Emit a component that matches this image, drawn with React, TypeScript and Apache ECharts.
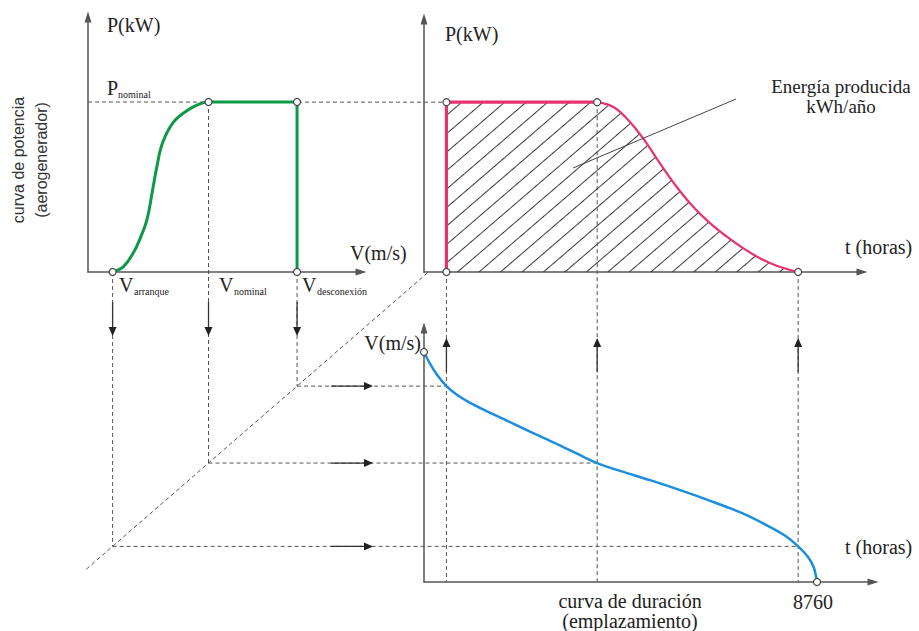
import React, { useEffect, useRef } from "react";
import * as echarts from "echarts";

// characteristic wind speeds (m/s) and nominal power (relative)
const vArranque = 5;
const vNominal = 16.7;
const vDesconexion = 27.5;
const pNominal = 1;
const hoursPerYear = 8760;

// rising part of the power curve (V in m/s, P relative to Pnominal)
const powerRiseV = [5, 6.3, 7.5, 8.3, 9.2, 9.8, 10.4, 11.1, 12.4, 14.1, 15.7, 16.7];
const powerRiseP = [0, 0.03, 0.11, 0.19, 0.31, 0.46, 0.62, 0.76, 0.88, 0.95, 0.99, 1];

// wind speed duration curve (t in hours, V in m/s)
const durationT = [0, 130, 290, 500, 710, 960, 1360, 1800, 2360, 2920, 3480, 3860, 4370, 5040, 5710, 6380, 7040, 7600, 8050, 8340, 8560, 8690, 8760];
const durationV = [32.3, 30.7, 29.1, 27.5, 26.4, 25.4, 24.1, 22.8, 21.1, 19.5, 17.8, 16.7, 15.6, 14.3, 12.9, 11.4, 9.8, 8.1, 6.5, 5.0, 3.5, 2.0, 0];

// hours at which the duration curve reaches the characteristic speeds
const tDesconexion = 500;
const tNominal = 3860;
const tArranque = 8340;

// falling part of the power duration curve (t in hours, P relative)
const energyT = [3860, 4220, 4520, 4890, 5260, 5630, 6000, 6380, 6750, 7120, 7490, 7860, 8340];
const energyP = [1, 0.972, 0.904, 0.786, 0.639, 0.502, 0.384, 0.286, 0.208, 0.139, 0.081, 0.037, 0];

// axis extents
const vAxisMinA = 2;
const vAxisMaxA = 35.3;
const pAxisMaxA = 1.5;
const tAxisMaxB = 9763;
const pAxisMaxB = 1.49;
const tAxisMaxC = 10008;
const vAxisMaxC = 35.66;
const diagonalStartV = 1.8;

const GREEN = "#0d9a47";
const PINK = "#e8336f";
const BLUE = "#1b8fdd";
const SERIF = "'Liberation Serif', 'Times New Roman', serif";
const SANS = "'Liberation Sans', Arial, sans-serif";

const zip = (a: number[], b: number[]) => a.map((x, i) => [x, b[i]]);

const axis = (extra: any) => ({
  type: "value",
  axisTick: { show: false },
  axisLabel: { show: false },
  splitLine: { show: false },
  axisLine: {
    show: true,
    onZero: false,
    lineStyle: { color: "#555", width: 1.5 },
    symbol: ["none", "triangle"],
    symbolSize: [7, 11],
  },
  ...extra,
});

const hatch = {
  symbol: "rect",
  symbolSize: 1,
  color: "#3a3a3a",
  dashArrayX: [1, 0],
  dashArrayY: [1, 13],
  rotation: -0.71,
};

const marker = (xi: number, data: number[][]) => ({
  type: "scatter",
  xAxisIndex: xi,
  yAxisIndex: xi,
  data,
  symbol: "circle",
  symbolSize: 7,
  itemStyle: { color: "#fff", borderColor: "#444", borderWidth: 1.2, opacity: 1 },
  z: 6,
  silent: true,
});

const option: any = {
  animation: false,
  backgroundColor: "#fff",
  grid: [
    { left: 88, top: 17, width: 273, height: 255 },
    { left: 424, top: 19, width: 438, height: 253 },
    { left: 424, top: 328, width: 449, height: 254 },
  ],
  xAxis: [
    axis({ gridIndex: 0, min: vAxisMinA, max: vAxisMaxA }),
    axis({ gridIndex: 1, min: 0, max: tAxisMaxB }),
    axis({ gridIndex: 2, min: 0, max: tAxisMaxC }),
  ],
  yAxis: [
    axis({ gridIndex: 0, min: 0, max: pAxisMaxA }),
    axis({ gridIndex: 1, min: 0, max: pAxisMaxB }),
    axis({ gridIndex: 2, min: 0, max: vAxisMaxC }),
  ],
  series: [
    {
      type: "line",
      xAxisIndex: 0,
      yAxisIndex: 0,
      data: zip(powerRiseV, powerRiseP),
      smooth: 0.4,
      showSymbol: false,
      lineStyle: { color: GREEN, width: 3 },
      z: 3,
    },
    {
      type: "line",
      xAxisIndex: 0,
      yAxisIndex: 0,
      data: [
        [vNominal, pNominal],
        [vDesconexion, pNominal],
        [vDesconexion, 0],
      ],
      showSymbol: false,
      lineStyle: { color: GREEN, width: 3 },
      z: 3,
    },
    marker(0, [
      [vArranque, 0],
      [vNominal, pNominal],
      [vDesconexion, pNominal],
      [vDesconexion, 0],
    ]),
    {
      type: "line",
      xAxisIndex: 1,
      yAxisIndex: 1,
      data: [
        [tDesconexion, 0],
        [tDesconexion, pNominal],
        [tNominal, pNominal],
      ],
      showSymbol: false,
      lineStyle: { color: PINK, width: 3.2 },
      areaStyle: { color: "rgba(255,255,255,0)", opacity: 1 },
      itemStyle: { color: PINK, decal: hatch },
      z: 3,
    },
    {
      type: "line",
      xAxisIndex: 1,
      yAxisIndex: 1,
      data: zip(energyT, energyP),
      smooth: 0.4,
      showSymbol: false,
      lineStyle: { color: PINK, width: 2.2 },
      areaStyle: { color: "rgba(255,255,255,0)", opacity: 1 },
      itemStyle: { color: PINK, decal: hatch },
      z: 3,
    },
    marker(1, [
      [tDesconexion, 0],
      [tDesconexion, pNominal],
      [tNominal, pNominal],
      [tArranque, 0],
    ]),
    {
      type: "line",
      xAxisIndex: 2,
      yAxisIndex: 2,
      data: zip(durationT, durationV),
      smooth: 0.3,
      showSymbol: false,
      lineStyle: { color: BLUE, width: 2.5 },
      z: 3,
    },
    marker(2, [
      [0, durationV[0]],
      [hoursPerYear, 0],
    ]),
  ],
};

function buildGraphic(chart: any) {
  const A = (x: number, y: number) => chart.convertToPixel({ gridIndex: 0 }, [x, y]) as number[];
  const B = (x: number, y: number) => chart.convertToPixel({ gridIndex: 1 }, [x, y]) as number[];
  const C = (x: number, y: number) => chart.convertToPixel({ gridIndex: 2 }, [x, y]) as number[];
  const diag = (v: number) => [A(v, 0)[0], C(0, v)[1]];

  const dash = { stroke: "#555", lineWidth: 1, lineDash: [4, 3] };
  const solid = { stroke: "#333", lineWidth: 1.3 };
  const els: any[] = [];
  const line = (x1: number, y1: number, x2: number, y2: number, style: any, z = 1) =>
    els.push({ type: "line", silent: true, z, shape: { x1, y1, x2, y2 }, style });
  const head = (pts: number[][]) =>
    els.push({ type: "polygon", silent: true, z: 10, shape: { points: pts }, style: { fill: "#222" } });
  const text = (
    t: string,
    x: number,
    y: number,
    size: number,
    align = "left",
    family = SERIF,
    rotation = 0,
    fill = "#222",
    lineHeight?: number
  ) =>
    els.push({
      type: "text",
      silent: true,
      z: 20,
      x,
      y,
      rotation,
      style: {
        text: t,
        fontSize: size,
        fontFamily: family,
        fill,
        align,
        textAlign: align,
        verticalAlign: "middle",
        textVerticalAlign: "middle",
        lineHeight: lineHeight || Math.round(size * 1.2),
      },
    });

  const speeds = [vArranque, vNominal, vDesconexion];
  const times = [tArranque, tNominal, tDesconexion];
  const topLeftP = [0, pNominal, 0];
  const topRightP = [0, pNominal, 0];

  // P nominal dashed reference
  const pn0 = A(vAxisMinA, pNominal);
  const pn1 = B(tDesconexion, pNominal);
  line(pn0[0], pn0[1], pn1[0], pn1[1], dash);

  // diagonal transfer line
  const yTopAxis = A(vAxisMinA, 0)[1];
  const c0 = C(0, 0)[1];
  const k = C(0, 1)[1] - c0;
  const vTop = (yTopAxis - c0) / k;
  const d0 = diag(diagonalStartV);
  const d1 = diag(vTop);
  line(d0[0], d0[1], d1[0], d1[1], dash);

  speeds.forEach((v, i) => {
    const top = A(v, topLeftP[i]);
    const d = diag(v);
    line(top[0], top[1], d[0], d[1], dash);
    const cross = C(times[i], v);
    line(d[0], d[1], cross[0], cross[1], dash);
    const xb = C(times[i], 0)[0];
    const yb = B(times[i], topRightP[i])[1];
    line(xb, yb, xb, C(times[i], 0)[1], dash);

    // down arrow
    const x = top[0];
    line(x, 302, x, 328, solid, 10);
    head([
      [x - 4, 327],
      [x + 4, 327],
      [x, 336],
    ]);
    // right arrow
    const y = d[1];
    line(331, y, 364, y, solid, 10);
    head([
      [364, y - 4],
      [364, y + 4],
      [373, y],
    ]);
    // up arrow
    line(xb, 347, xb, 372, solid, 10);
    head([
      [xb - 4, 347],
      [xb + 4, 347],
      [xb, 338],
    ]);
  });

  // annotation leader
  line(736, 99, 573, 168, { stroke: "#444", lineWidth: 1 }, 10);

  // texts
  text("P(kW)", 107, 25, 20);
  text("P", 107, 88, 20);
  text("nominal", 118, 94, 10);
  text("V(m/s)", 350, 253, 20);
  text("V", 119, 285, 20);
  text("arranque", 134, 291, 10);
  text("V", 219, 285, 20);
  text("nominal", 234, 291, 10);
  text("V", 302, 285, 20);
  text("desconexión", 317, 291, 10);
  text("curva de potencia", 18, 160, 16, "center", SANS, Math.PI / 2, "#333");
  text("(aerogenerador)", 41, 160, 16, "center", SANS, Math.PI / 2, "#333");

  text("P(kW)", 445, 34, 20);
  text("Energía producida\nkWh/año", 841, 96, 19, "center", SERIF, 0, "#222", 20);
  text("t (horas)", 845, 247, 20);

  text("V(m/s)", 421, 343, 20, "right");
  text("t (horas)", 845, 547, 20);
  text("curva de duración\n(emplazamiento)", 630, 611, 20, "center", SERIF, 0, "#222", 20);
  text("8760", C(hoursPerYear, 0)[0] - 4, 602, 20, "center");

  return els;
}

export default function App() {
  const ref = useRef<HTMLDivElement>(null);
  useEffect(() => {
    const chart = echarts.init(ref.current!, null, { renderer: "svg" });
    chart.setOption(option);
    chart.setOption({ graphic: buildGraphic(chart) });
    return () => chart.dispose();
  }, []);
  return (
    <div
      ref={ref}
      style={{ position: "fixed", left: 0, top: 0, width: 919, height: 631, background: "#fff" }}
    />
  );
}
